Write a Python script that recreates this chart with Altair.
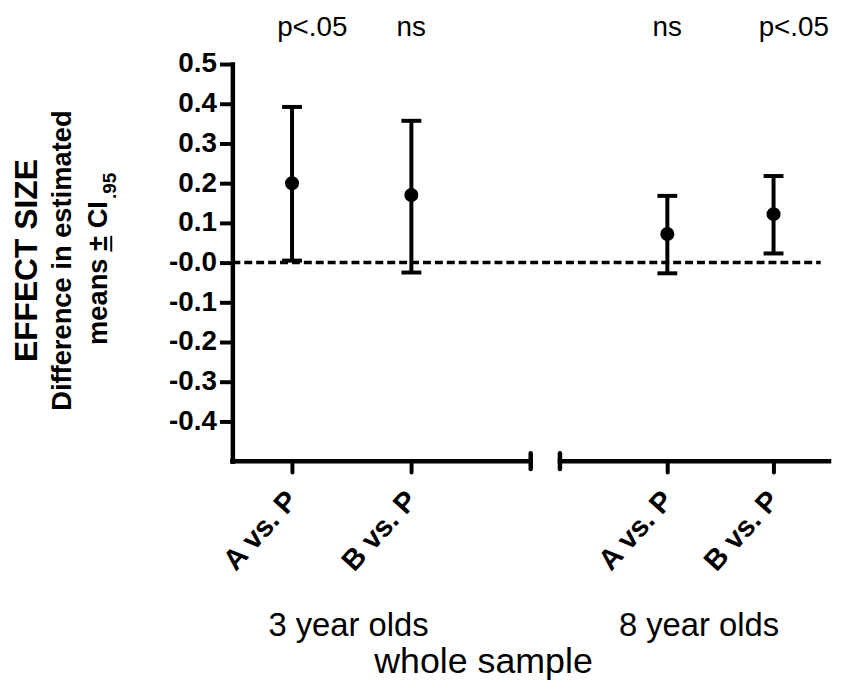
import altair as alt
import pandas as pd

# ---------------- data ----------------
groups = ["3 year olds", "3 year olds", "8 year olds", "8 year olds"]
comparisons = ["A vs. P", "B vs. P", "A vs. P", "B vs. P"]
means = [0.200, 0.170, 0.072, 0.122]
ci_low = [0.005, -0.025, -0.027, 0.023]
ci_high = [0.392, 0.357, 0.168, 0.218]
p_labels = ["p<.05", "ns", "ns", "p<.05"]
group_names = ["3 year olds", "8 year olds"]
x_title = ["whole sample"]
y_title_main = ["EFFECT SIZE"]
y_title_sub = ["Difference in estimated"]
y_title_ci = ["means \u00b1 CI"]
y_title_ci_sub = [".95"]
y_ticks = [-0.4, -0.3, -0.2, -0.1, 0.0, 0.1, 0.2, 0.3, 0.4, 0.5]

# ---------------- layout (discontinuous x axis, axis units) ----------------
W, H = 601, 400
X_DOMAIN = [0, 5]
SEG_START = {"3 year olds": 0.5, "8 year olds": 3.645}
SEG_STEP = {"3 year olds": 1.0, "8 year olds": 0.89}
BREAK_LEFT, BREAK_RIGHT = 2.5, 2.745
ZERO_LINE_END = 4.93
FONT = "Liberation Sans"

xpos = []
seen = {}
for g in groups:
    i = seen.get(g, 0)
    xpos.append(SEG_START[g] + i * SEG_STEP[g])
    seen[g] = i + 1

df = pd.DataFrame({
    "group": groups, "comparison": comparisons, "mean": means,
    "low": ci_low, "high": ci_high, "p": p_labels, "xpos": xpos,
})

label_expr = "".join(
    f"abs(datum.value - {p:.4f}) < 0.01 ? '{c}' : " for p, c in zip(xpos, comparisons)
) + "''"

xscale = alt.Scale(domain=X_DOMAIN, nice=False, zero=False)
yscale = alt.Scale(domain=[-0.5, 0.5], nice=False, zero=False)

x_axis = alt.Axis(
    values=xpos, labelExpr=label_expr, domain=False, grid=False,
    tickSize=11, tickWidth=4, tickColor="black", tickCap="round",
    labelAngle=-48, labelAlign="right", labelBaseline="middle",
    labelPadding=23, labelFont=FONT, labelFontSize=29, labelFontWeight="bold",
    labelColor="black", labelOverlap=False, labelFlush=False, title=None,
)
y_axis = alt.Axis(
    values=y_ticks,
    labelExpr="abs(datum.value) < 1e-9 ? '-0.0' : (datum.value < 0 ? '-' : '') + format(abs(datum.value), '.1f')",
    domain=True, domainColor="black", domainWidth=4.5, domainCap="square",
    grid=False, tickSize=13, tickWidth=4, tickColor="black",
    labelPadding=3, labelFont=FONT, labelFontSize=28, labelFontWeight="bold",
    labelColor="black", labelOverlap=False, labelFlush=False, title=None,
)

X = lambda f: alt.X(f"{f}:Q", scale=xscale, axis=x_axis)
Y = lambda f: alt.Y(f"{f}:Q", scale=yscale, axis=y_axis)

base = alt.Chart(df)

# dashed zero reference line
zero = alt.Chart(pd.DataFrame({"x": [0.0], "x2": [ZERO_LINE_END], "y": [0.0]})).mark_rule(
    color="black", strokeWidth=3.5, strokeDash=[8, 4]
).encode(x=X("x"), x2="x2:Q", y=Y("y"))

# discontinuous bottom axis line
segs = alt.Chart(pd.DataFrame({"x": [0.0, BREAK_RIGHT], "x2": [BREAK_LEFT, X_DOMAIN[1]]})).mark_rule(
    color="black", strokeWidth=4.5, strokeCap="square"
).encode(x=X("x"), x2="x2:Q", y=alt.value(H))

breaks = alt.Chart(pd.DataFrame({"x": [BREAK_LEFT, BREAK_RIGHT]})).mark_rule(
    color="black", strokeWidth=4.5, strokeCap="round"
).encode(x=X("x"), y=alt.value(H - 8), y2=alt.value(H + 8))

# error bars
bars = base.mark_rule(color="black", strokeWidth=4).encode(x=X("xpos"), y=Y("low"), y2="high:Q")
cap_hi = base.mark_tick(color="black", orient="horizontal", size=20, thickness=4, opacity=1).encode(
    x=X("xpos"), y=Y("high"))
cap_lo = base.mark_tick(color="black", orient="horizontal", size=20, thickness=4, opacity=1).encode(
    x=X("xpos"), y=Y("low"))
pts = base.mark_circle(color="black", size=200, opacity=1).encode(x=X("xpos"), y=Y("mean"))

# significance labels above
plab = base.mark_text(font=FONT, fontSize=28, color="black", align="left", baseline="alphabetic", dx=-15).encode(
    x=X("xpos"), y=alt.value(-28), text="p:N")

# group labels and x title
g1 = alt.Chart(pd.DataFrame({"t": group_names[:1]})).mark_text(
    font=FONT, fontSize=33, color="black", align="center", baseline="alphabetic"
).encode(x=alt.value(117), y=alt.value(576), text="t:N")
g2 = alt.Chart(pd.DataFrame({"t": group_names[1:]})).mark_text(
    font=FONT, fontSize=33, color="black", align="center", baseline="alphabetic"
).encode(x=alt.value(470), y=alt.value(576), text="t:N")
xt = alt.Chart(pd.DataFrame({"t": x_title})).mark_text(
    font=FONT, fontSize=36, color="black", align="center", baseline="alphabetic"
).encode(x=alt.value(253), y=alt.value(613), text="t:N")

# y title block (rotated)
yt1 = alt.Chart(pd.DataFrame({"t": y_title_main})).mark_text(
    font=FONT, fontSize=32, fontWeight="bold", color="black", angle=270, align="center", baseline="middle"
).encode(x=alt.value(-207), y=alt.value(198), text="t:N")
yt2 = alt.Chart(pd.DataFrame({"t": y_title_sub})).mark_text(
    font=FONT, fontSize=27.5, fontWeight="bold", color="black", angle=270, align="center", baseline="middle"
).encode(x=alt.value(-171), y=alt.value(198), text="t:N")
yt3 = alt.Chart(pd.DataFrame({"t": y_title_ci})).mark_text(
    font=FONT, fontSize=27.5, fontWeight="bold", color="black", angle=270, align="right", baseline="middle"
).encode(x=alt.value(-134), y=alt.value(138), text="t:N")
yt4 = alt.Chart(pd.DataFrame({"t": y_title_ci_sub})).mark_text(
    font=FONT, fontSize=19, fontWeight="bold", color="black", angle=270, align="left", baseline="middle"
).encode(x=alt.value(-123), y=alt.value(136), text="t:N")
uline = alt.Chart(pd.DataFrame({"t": [0]})).mark_rule(color="black", strokeWidth=2).encode(
    x=alt.value(-122), y=alt.value(173), y2=alt.value(189))

chart = alt.layer(
    zero, segs, breaks, bars, cap_hi, cap_lo, pts, plab, g1, g2, xt, yt1, yt2, yt3, yt4, uline
).properties(
    width=W, height=H,
    padding={"left": 226, "top": 54, "right": 5, "bottom": 220},
    autosize=alt.AutoSizeParams(type="none"),
    background="white",
).configure_view(strokeWidth=0)

chart.save("out.html", embed_options={"renderer": "svg", "actions": False})
